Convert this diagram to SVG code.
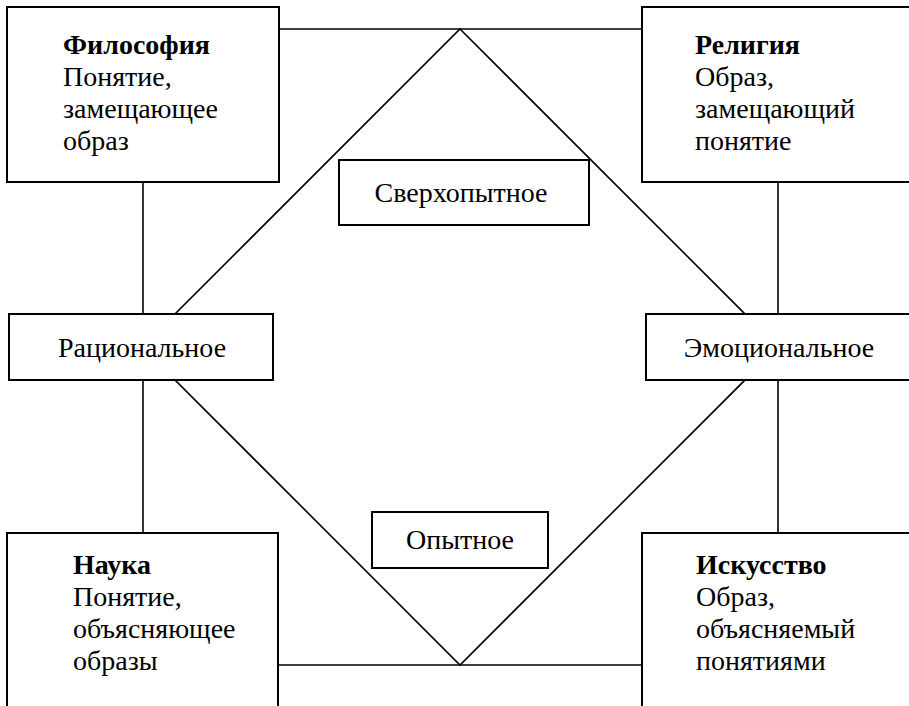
<svg xmlns="http://www.w3.org/2000/svg" width="909" height="706" viewBox="0 0 909 706">
<style>
.box{fill:#fff;stroke:#000;stroke-width:2}
.ln{fill:none;stroke:#000;stroke-width:1.6}
text{font-size:28px;fill:#000}
.b{font-weight:bold}
.c{text-anchor:middle}
</style>
<rect width="909" height="706" fill="#fff"/>
<g id="connectors">
<polygon class="ln" points="460,29 778,347 460,665 142,347"/>
<line class="ln" x1="279" y1="29" x2="642" y2="29"/>
<line class="ln" x1="278" y1="665" x2="642" y2="665"/>
<line class="ln" x1="143" y1="182" x2="143" y2="533"/>
<line class="ln" x1="778" y1="182" x2="778" y2="533"/>
</g>
<g font-family="'Liberation Serif', 'Times New Roman', 'DejaVu Serif', serif">
<g id="philosophy">
<rect class="box" x="7" y="7" width="272" height="175"/>
<text x="63" y="54"><tspan class="b">Философия</tspan><tspan x="63" dy="32">Понятие,</tspan><tspan x="63" dy="32">замещающее</tspan><tspan x="63" dy="32">образ</tspan></text>
</g>
<g id="religion">
<rect class="box" x="642" y="7" width="275" height="175"/>
<text x="695" y="54"><tspan class="b">Религия</tspan><tspan x="695" dy="32">Образ,</tspan><tspan x="695" dy="32">замещающий</tspan><tspan x="695" dy="32">понятие</tspan></text>
</g>
<g id="rational">
<rect class="box" x="9" y="314" width="264" height="66"/>
<text class="c" x="142" y="357">Рациональное</text>
</g>
<g id="emotional">
<rect class="box" x="646" y="314" width="270" height="66"/>
<text class="c" x="779" y="357">Эмоциональное</text>
</g>
<g id="superexperience">
<rect class="box" x="339" y="160" width="250" height="65"/>
<text class="c" x="461" y="202">Сверхопытное</text>
</g>
<g id="experience">
<rect class="box" x="372" y="512" width="176" height="56"/>
<text class="c" x="460" y="549">Опытное</text>
</g>
<g id="science">
<rect class="box" x="7" y="533" width="271" height="185"/>
<text x="73" y="574"><tspan class="b">Наука</tspan><tspan x="73" dy="32">Понятие,</tspan><tspan x="73" dy="32">объясняющее</tspan><tspan x="73" dy="32">образы</tspan></text>
</g>
<g id="art">
<rect class="box" x="642" y="533" width="275" height="185"/>
<text x="696" y="574"><tspan class="b">Искусство</tspan><tspan x="696" dy="32">Образ,</tspan><tspan x="696" dy="32">объясняемый</tspan><tspan x="696" dy="32">понятиями</tspan></text>
</g>
</g>
</svg>
